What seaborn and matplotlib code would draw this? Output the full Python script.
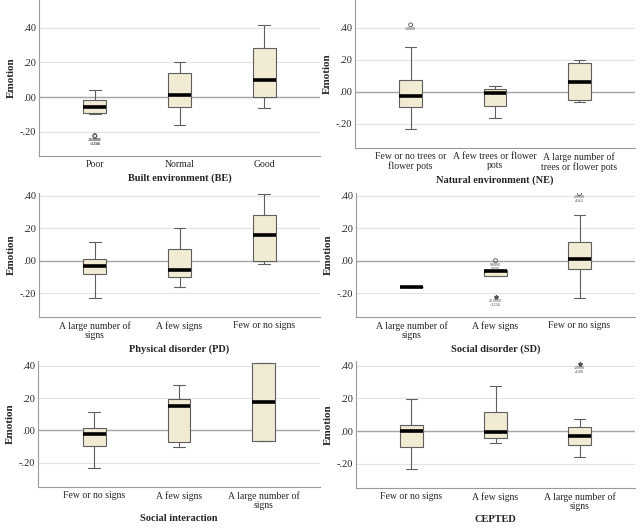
"""
Boxplots of emotion by street environment ratings
"""

import matplotlib
matplotlib.use("Agg")
import matplotlib.pyplot as plt
import seaborn as sns
import numpy as np
import pandas as pd
from matplotlib.ticker import FuncFormatter

sns.set_style("white")
plt.rcParams["font.family"] = ["Liberation Serif", "DejaVu Serif"]

# categories for each panel
be_cats = ["Poor", "Normal", "Good"]
ne_cats = ["Few or no trees or\nflower pots", "A few trees or flower\npots",
           "A large number of\ntrees or flower pots"]
dis_cats = ["A large number of\nsigns", "A few signs", "Few or no signs"]
si_cats = ["Few or no signs", "A few signs", "A large number of\nsigns"]

# five-number summaries: low whisker, q1, median, q3, high whisker
be_vals = [[-0.098, -0.092, -0.054, -0.015, 0.042],
           [-0.158, -0.058, 0.015, 0.140, 0.200],
           [-0.063, 0.000, 0.098, 0.281, 0.415]]
ne_vals = [[-0.232, -0.095, -0.025, 0.074, 0.283],
           [-0.161, -0.087, -0.004, 0.021, 0.039],
           [-0.062, -0.050, 0.062, 0.180, 0.200]]
pd_vals = [[-0.229, -0.082, -0.031, 0.012, 0.119],
           [-0.158, -0.096, -0.057, 0.074, 0.200],
           [-0.018, 0.002, 0.162, 0.282, 0.411]]
sd_vals = [[-0.161, -0.161, -0.161, -0.161, -0.161],
           [-0.097, -0.097, -0.066, -0.060, -0.060],
           [-0.233, -0.049, 0.008, 0.117, 0.282]]
si_vals = [[-0.234, -0.095, -0.023, 0.014, 0.117],
           [-0.101, -0.072, 0.154, 0.197, 0.280],
           [-0.068, -0.068, 0.175, 0.415, 0.415]]
ce_vals = [[-0.233, -0.096, -0.002, 0.037, 0.198],
           [-0.073, -0.045, -0.008, 0.114, 0.278],
           [-0.159, -0.086, -0.031, 0.022, 0.073]]

# outliers: (group index, value, marker, label)
be_out = [(0, -0.221, "o", "21.0000\n-.2198"), (0, -0.226, "o", "19.0000\n-.2244")]
ne_out = [(0, 0.420, "o", "1.0000")]
pd_out = []
sd_out = [(1, 0.000, "o", "9.0000\n.0000"), (1, -0.225, "*", "22.0000\n-.2234"),
          (2, 0.414, "o", "2.0000\n.4161")]
si_out = []
ce_out = [(2, 0.410, "*", "1.0000\n.4100")]

titles = ["Built environment (BE)", "Natural environment (NE)",
          "Physical disorder (PD)", "Social disorder (SD)",
          "Social interaction", "CEPTED"]

panels = [
    (be_cats, be_vals, be_out, (39, 0, 320, 156), (-0.339, 0.56)),
    (ne_cats, ne_vals, ne_out, (355, 0, 635, 148), (-0.35, 0.575)),
    (dis_cats, pd_vals, pd_out, (39, 193, 320, 317), (-0.345, 0.418)),
    (dis_cats, sd_vals, sd_out, (356, 193, 635, 317), (-0.347, 0.417)),
    (si_cats, si_vals, si_out, (38, 361, 320, 487), (-0.35, 0.43)),
    (si_cats, ce_vals, ce_out, (356, 361, 635, 488), (-0.35, 0.43)),
]

W, H = 640, 530
fig = plt.figure(figsize=(6.4, 5.3), dpi=100)
fmt = FuncFormatter(lambda v, p: f"{v:.2f}".replace("0.", ".", 1))

for (cats, vals, outs, box, ylim), title in zip(panels, titles):
    x0, y0, x1, y1 = box
    ax = fig.add_axes([x0 / W, 1 - y1 / H, (x1 - x0) / W, (y1 - y0) / H])

    df = pd.DataFrame({
        "group": np.repeat(cats, 5),
        "Emotion": np.concatenate(vals),
    })
    ax.yaxis.grid(True, color="#e3e3e3", lw=0.8, zorder=0)
    ax.axhline(0, color="#a6a6a6", lw=1.0, zorder=1)
    sns.boxplot(data=df, x="group", y="Emotion", order=cats, whis=np.inf,
                width=0.27, color="#f2ebd3", linecolor="#5e5e5e", linewidth=0.8,
                saturation=1, medianprops=dict(color="black", linewidth=2.6),
                ax=ax, zorder=2)

    for gi, v, m, lab in outs:
        if m == "o":
            ax.scatter(gi, v, s=8, marker="o", facecolors="none",
                       edgecolors="#555555", linewidths=0.6, zorder=3)
        else:
            ax.scatter(gi, v, s=8, marker="*", color="#555555", zorder=3)
        ax.text(gi, v - 0.012, lab, fontsize=3, ha="center", va="top",
                color="#444444", linespacing=1.0)

    ax.set_ylim(*ylim)
    ax.set_xlim(-0.66, 2.66)
    ax.set_yticks([-0.2, 0.0, 0.2, 0.4])
    ax.yaxis.set_major_formatter(fmt)
    ax.tick_params(axis="y", length=0, labelsize=7.5, pad=2)
    ax.tick_params(axis="x", length=0, labelsize=7, pad=3)
    for t in ax.get_xticklabels():
        t.set_linespacing(1.0)
    ax.set_ylabel("Emotion", fontsize=8, fontweight="bold", labelpad=3)
    ax.set_xlabel(title, fontsize=7.5, fontweight="bold", labelpad=3)
    for s in ["top", "right"]:
        ax.spines[s].set_visible(False)
    for s in ["left", "bottom"]:
        ax.spines[s].set_color("#9a9a9a")
        ax.spines[s].set_linewidth(0.8)

fig.savefig("out.png", dpi=100)
